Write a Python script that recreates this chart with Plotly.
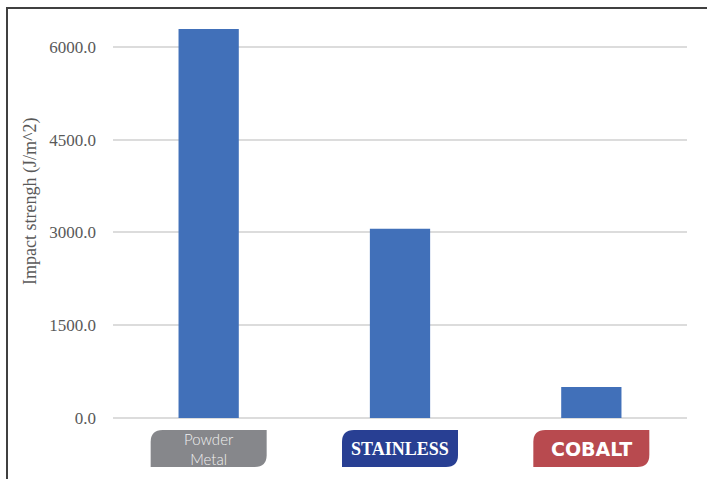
import plotly.graph_objects as go

# values
categories = ['Powder Metal', 'Stainless', 'Cobalt']
impact = [6290, 3060, 500]
ytick_vals = [0, 1500, 3000, 4500, 6000]

# badges drawn under each category instead of tick labels
badge_fill = ['#86878b', '#283f93', '#b84a4f']
badge_text = ['Powder<br>Metal', 'STAINLESS', 'COBALT']
badge_font = [
    dict(family='Lato', size=15, color='#f0f0f0', weight=300),
    dict(family='Liberation Serif', size=18, color='white', weight='bold'),
    dict(family='DejaVu Sans', size=19, color='white', weight='bold'),
]

W, H = 707, 479
L, R, T, B = 113, 20, 16, 61
pw, ph = W - L - R, H - T - B

fig = go.Figure()
fig.add_trace(go.Bar(x=categories, y=impact, marker_color='#4170b9',
                     marker_line_width=0, width=0.315))


def px2paper(px, py):
    return (px - L) / pw, (H - B - py) / ph


shapes = []
annots = []
n = len(categories)
for i in range(n):
    cx = (i + 0.5) / n  # centre of category in paper units
    bw, r = 116 / pw, 12
    rx, ry = r / pw, r / ph
    top, bot = px2paper(0, 430)[1], px2paper(0, 467)[1]
    x0, x1 = cx - bw / 2, cx + bw / 2
    path = (f'M {x0},{bot} L {x0},{top - ry} Q {x0},{top} {x0 + rx},{top} '
            f'L {x1},{top} L {x1},{bot + ry} Q {x1},{bot} {x1 - rx},{bot} Z')
    shapes.append(dict(type='path', path=path, xref='paper', yref='paper',
                       fillcolor=badge_fill[i], line_width=0, layer='above'))
    annots.append(dict(x=cx, y=(top + bot) / 2, xref='paper', yref='paper',
                       xanchor='center', yanchor='middle', borderpad=0,
                       text=badge_text[i], showarrow=False, font=badge_font[i]))

# outer frame (only top and left visible)
fx, fy = px2paper(7, 8)
shapes.append(dict(type='path', path=f'M {fx},-1 L {fx},{fy} L 1.2,{fy}',
                   xref='paper', yref='paper', line=dict(color='#404040', width=2)))

tx, ty = px2paper(30, 202)
annots.append(dict(x=tx, y=ty, xref='paper', yref='paper', textangle=-90,
                   xanchor='center', yanchor='middle',
                   text='Impact strengh (J/m^2)', showarrow=False,
                   font=dict(family='Liberation Serif', size=18, color='#595959')))

fig.update_layout(
    width=W, height=H,
    margin=dict(l=L, r=R, t=T, b=B),
    paper_bgcolor='white', plot_bgcolor='white',
    showlegend=False,
    shapes=shapes, annotations=annots,
    xaxis=dict(showticklabels=False, showgrid=False, showline=False, zeroline=False),
    yaxis=dict(range=[0, 6500], tickvals=ytick_vals, tickformat='.1f',
               gridcolor='#dcdcdc', gridwidth=1.5, zeroline=True,
               zerolinecolor='#dcdcdc', zerolinewidth=1.5,
               ticklabelstandoff=16,
               tickfont=dict(family='Liberation Serif', size=17, color='#595959')),
)

fig.write_html('out.html', config={'displayModeBar': False},
               post_script="document.body.style.margin='0';")
